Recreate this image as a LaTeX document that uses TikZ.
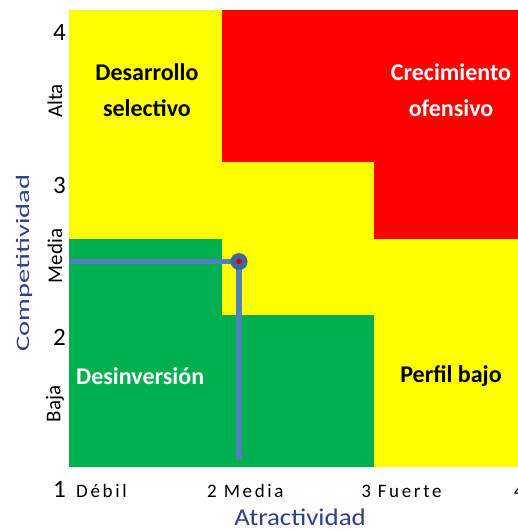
\documentclass[tikz,border=0pt]{standalone}
\usepackage{fontspec}
\setmainfont{Carlito}
\newfontfamily\tickfont[LetterSpace=14]{Carlito}
\usetikzlibrary{positioning}
\definecolor{zonegreen}{RGB}{0,176,80}
\definecolor{zoneyellow}{RGB}{255,255,0}
\definecolor{zonered}{RGB}{255,0,0}
\definecolor{lineblue}{RGB}{79,129,189}
\definecolor{dotblue}{RGB}{68,100,150}
\definecolor{dotred}{RGB}{200,0,0}
\definecolor{titleblue}{RGB}{46,64,140}

\begin{document}
\begin{tikzpicture}[line cap=round,line join=round,x=152.5pt,y=152.3pt,
  quadlabel/.style={font=\fontsize{24}{36}\selectfont\bfseries,align=center,inner sep=0pt},
  ynum/.style={font=\fontsize{25}{25}\selectfont,anchor=east,inner sep=0pt},
  ycat/.style={font=\fontsize{21}{21}\selectfont,rotate=90,inner sep=0pt},
  xcat/.style={font=\fontsize{19}{19}\selectfont\tickfont,anchor=west,inner sep=0pt},
  axtitle/.style={text=titleblue,inner sep=0pt},
  guide/.style={draw=lineblue,line width=5.5pt,line cap=butt},
  marker/.style={circle,fill=dotblue,minimum size=17pt,inner sep=0pt},
  core/.style={circle,fill=dotred,minimum size=5pt,inner sep=0pt}]
			\useasboundingbox (0.5475,0.5798) rectangle (3.944,4.0663);
			\clip (0.5475,0.5798) rectangle (3.944,4.0663);
			% zones
			\fill[zoneyellow] (1,1) rectangle (4,4);
			\fill[zonered] (2,3) rectangle (4,4);
			\fill[zonered] (3,2.5) rectangle (4,3);
			\fill[zonegreen] (1,1) rectangle (2,2.5);
			\fill[zonegreen] (2,1) rectangle (3,2);
			% zone names
			\node[quadlabel] (desarrollo) at (1.511,3.475) {Desarrollo\\selectivo};
			\node[quadlabel,text=white] (crecimiento) at (3.505,3.475) {Crecimiento\\ofensivo};
			\node[quadlabel,text=white,anchor=west] (desinversion) at (1.046,1.598) {Desinversión};
			\node[quadlabel] (perfil) at (3.505,1.598) {Perfil bajo};
			% y axis
			\foreach \k in {1,2,3,4}
				\node[ynum] (ynum\k) at (0.980,\k-0.15) {\k};
			\node[ycat] (alta) at (0.908,3.403) {Alta};
			\node[ycat] (media) at (0.908,2.385) {Media};
			\node[ycat] (baja) at (0.908,1.414) {Baja};
			\node[axtitle,rotate=90,font=\fontsize{19}{19}\selectfont] (comp) at (0.705,2.34) {\scalebox{1.5}[1]{Competitividad}};
			% x axis
			\node[xcat] (debil) at (1.046,0.842) {Débil};
			\node[xcat] (xmedia) at (1.905,0.842) {2 Media};
			\node[xcat] (fuerte) at (2.915,0.842) {3 Fuerte};
			\node[xcat] (xcuatro) at (3.918,0.842) {4};
			\node[axtitle,font=\fontsize{24}{24}\selectfont] (atr) at (2.515,0.672) {\scalebox{1.12}[1]{Atractividad}};
			% position
			\coordinate (hstart) at (1,2.349);
			\coordinate (ptc) at (2.115,2.349);
			\coordinate (vend) at (2.115,1.046);
			\draw[guide] (hstart) -- (ptc);
			\draw[guide] (ptc) -- (vend);
			\node[marker] (pt) at (ptc) {};
			\node[core] (ptcore) at (pt.center) {};
\end{tikzpicture}
\end{document}
